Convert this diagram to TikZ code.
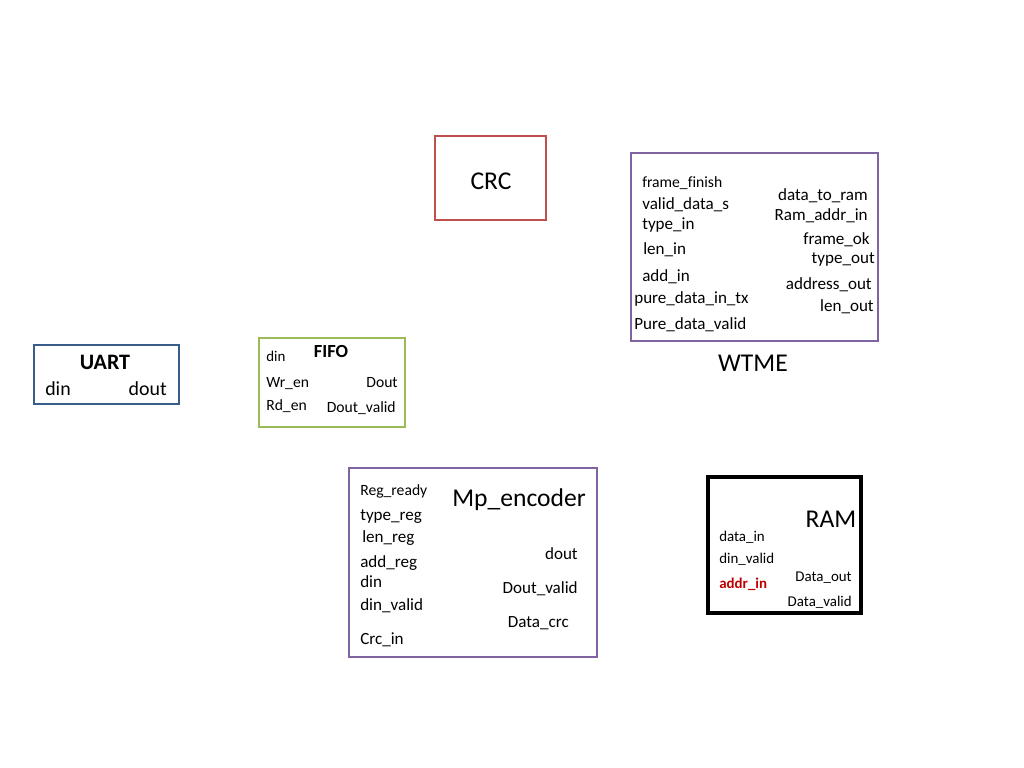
\documentclass[tikz,border=0pt]{standalone}
\usepackage{fontspec}
\setmainfont{Carlito}[Ligatures=CommonOff]
\usepackage{tikz}
\usetikzlibrary{positioning, fit}

\definecolor{purp}{HTML}{8064A2}
\definecolor{crcred}{HTML}{C0504D}
\definecolor{uartblue}{HTML}{385D8A}
\definecolor{fifogreen}{HTML}{9BBB59}
\definecolor{addrred}{HTML}{C00000}

\begin{document}
\begin{tikzpicture}[
  x=0.703125pt, y=-0.703125pt,
  blockbox/.style={draw, rectangle, line width=1.9pt, inner sep=0pt},
  title/.style={font=\fontsize{18}{20}\selectfont, inner sep=0pt},
  boldtitle/.style={font=\fontsize{15.5}{18}\selectfont\bfseries, inner sep=0pt},
  port/.style={font=\fontsize{12}{14}\selectfont, inner sep=0pt},
  smallport/.style={font=\fontsize{11}{13}\selectfont, inner sep=0pt},
  tinyport/.style={font=\fontsize{10.5}{12}\selectfont, inner sep=0pt}
]
\useasboundingbox (0,0) rectangle (1024,768);

% Blocks
\node[blockbox, draw=crcred, fit={(435,136) (546,220)}]     (CRC)  {};
\node[blockbox, draw=purp, fit={(631,153) (878,341)}]       (WTME) {};
\node[blockbox, draw=uartblue, fit={(34,345) (179,404)}]    (UART) {};
\node[blockbox, draw=fifogreen, fit={(259,338) (405,427)}]  (FIFO) {};
\node[blockbox, draw=purp, fit={(349,468) (597,657)}]       (MPE)  {};
\node[blockbox, draw=black, line width=2.4pt, fit={(708,477) (861,613)}] (RAM) {};

% Titles
\node[title]     (CRCt)  at (491,181) {CRC};
\node[title]     (WTMEt) at (753,363) {WTME};
\node[boldtitle] (UARTt) at (105,362) {UART};
\node[boldtitle, font=\fontsize{13}{15}\selectfont\bfseries] (FIFOt) at (331,352) {FIFO};
\node[title]     (MPEt)  at (519,500) {Mp\_encoder};
\node[title]     (RAMt)  at (831,519) {RAM};

% UART ports
\node[port, font=\fontsize{14}{16}\selectfont, anchor=base west] (Udin)  at (45,395)  {din};
\node[port, font=\fontsize{14}{16}\selectfont, anchor=base east] (Udout) at (167,395) {dout};

% FIFO ports
\node[tinyport, anchor=base west]  (Fdin)   at (266,361) {din};
\node[smallport, anchor=base west] (Fwr)    at (266,387) {Wr\_en};
\node[smallport, anchor=base west] (Frd)    at (266,410) {Rd\_en};
\node[smallport, anchor=base east] (Fdout)  at (398,387) {Dout};
\node[smallport, anchor=base east] (Fdval)  at (396,412) {Dout\_valid};

% WTME inputs
\node[smallport, anchor=base west] (Wff)   at (642,188) {frame\_finish};
\node[port, anchor=base west]      (Wvds)  at (642,210) {valid\_data\_s};
\node[port, anchor=base west]      (Wtyp)  at (642,230) {type\_in};
\node[port, anchor=base west]      (Wlen)  at (643,255) {len\_in};
\node[port, anchor=base west]      (Wadd)  at (642,281) {add\_in};
\node[port, anchor=base west]      (Wpdt)  at (634,304) {pure\_data\_in\_tx};
\node[port, anchor=base west]      (Wpdv)  at (634,329) {Pure\_data\_valid};

% WTME outputs
\node[port, anchor=base east] (Wdtr)  at (868,201) {data\_to\_ram};
\node[port, anchor=base east] (Wrai)  at (868,221) {Ram\_addr\_in};
\node[port, anchor=base east] (Wfok)  at (870,245) {frame\_ok};
\node[port, anchor=base east] (Wtout) at (875,264) {type\_out};
\node[port, anchor=base east] (Waout) at (872,289) {address\_out};
\node[port, anchor=base east] (Wlout) at (874,312) {len\_out};

% Mp_encoder inputs
\node[smallport, anchor=base west] (Mrr)   at (360,495) {Reg\_ready};
\node[port, anchor=base west]      (Mtr)   at (360,520) {type\_reg};
\node[port, anchor=base west]      (Mlr)   at (362,542) {len\_reg};
\node[port, anchor=base west]      (Mar)   at (360,567) {add\_reg};
\node[port, anchor=base west]      (Mdin)  at (360,587) {din};
\node[port, anchor=base west]      (Mdv)   at (360,610) {din\_valid};
\node[port, anchor=base west]      (Mcrc)  at (360,644) {Crc\_in};

% Mp_encoder outputs
\node[port, anchor=base east] (Mdout) at (578,559) {dout};
\node[port, anchor=base east] (Mdov)  at (578,593) {Dout\_valid};
\node[port, anchor=base east] (Mdcrc) at (569,627) {Data\_crc};

% RAM ports
\node[tinyport, anchor=base west] (Rdin)  at (719,541) {data\_in};
\node[tinyport, anchor=base west] (Rdv)   at (719,563) {din\_valid};
\node[tinyport, anchor=base west, text=addrred, font=\fontsize{10.5}{12}\selectfont\bfseries] (Raddr) at (719,588) {addr\_in};
\node[tinyport, anchor=base east] (Rdout) at (852,581) {Data\_out};
\node[tinyport, anchor=base east] (Rdval) at (852,606) {Data\_valid};
\end{tikzpicture}
\end{document}
